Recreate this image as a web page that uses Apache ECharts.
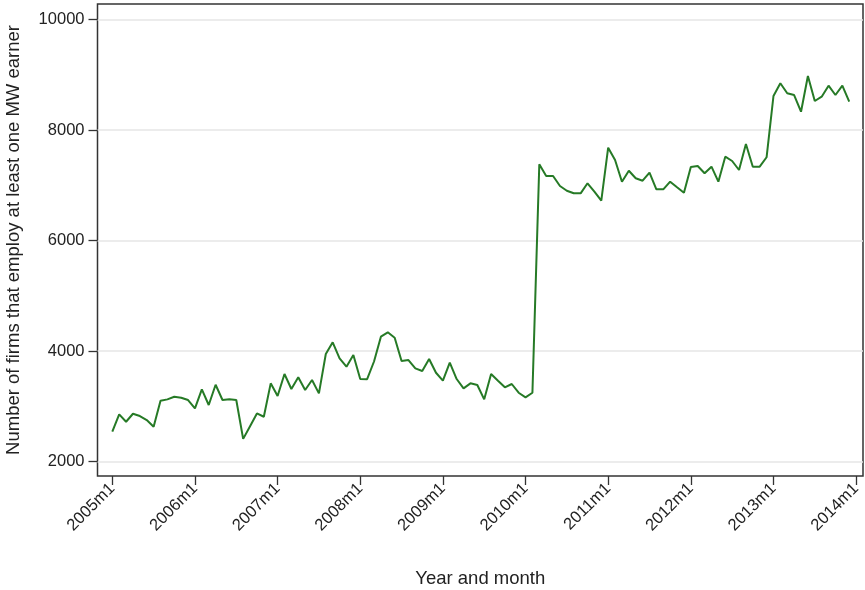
<!DOCTYPE html>
<html>
<head>
<meta charset="utf-8">
<script src="https://cdn.jsdelivr.net/npm/echarts@6/dist/echarts.min.js"></script>
<style>
  html, body { margin: 0; padding: 0; background: #fff; }
  #main { width: 865px; height: 590px; }
</style>
</head>
<body>
<div id="main"></div>
<script>
// monthly counts, 2005m1 .. 2013m12 (index 0 = 2005m1)
var firmCounts = [
  2540, 2854, 2720, 2865, 2823, 2751, 2630, 3100, 3125, 3173, 3155, 3113,
  2962, 3307, 3023, 3390, 3113, 3125, 3113, 2410, 2640, 2870, 2810, 3415,
  3185, 3584, 3312, 3524, 3294, 3475, 3234, 3946, 4157, 3868, 3716, 3928,
  3493, 3490, 3810, 4259, 4338, 4241, 3819, 3837, 3686, 3638, 3855, 3607,
  3463, 3789, 3493, 3324, 3415, 3385, 3125, 3584, 3463, 3343, 3403, 3245,
  3162, 3245, 7379, 7167, 7167, 6986, 6901, 6854, 6854, 7035, 6883, 6720,
  7680, 7457, 7064, 7263, 7126, 7082, 7227, 6926, 6926, 7064, 6963, 6865,
  7330, 7348, 7216, 7336, 7064, 7517, 7439, 7276, 7747, 7336, 7336, 7506,
  8615, 8845, 8664, 8633, 8331, 8977, 8525, 8603, 8802, 8633, 8802, 8512
];
var xTickPos = [0, 12, 24, 36, 48, 60, 72, 84, 96, 108];
var xTickLabels = ['2005m1', '2006m1', '2007m1', '2008m1', '2009m1',
                   '2010m1', '2011m1', '2012m1', '2013m1', '2014m1'];
var yTicks = [2000, 4000, 6000, 8000, 10000];

var seriesData = firmCounts.map(function (v, i) { return [i, v]; });
var labelFor = {};
xTickPos.forEach(function (p, i) { labelFor[p] = xTickLabels[i]; });

var txt = '#222';
var font = 'Liberation Sans, Arial, Helvetica, sans-serif';

var chart = echarts.init(document.getElementById('main'));
chart.setOption({
  animation: false,
  grid: {
    left: 97.5, right: 2, top: 4, bottom: 114,
    outerBoundsMode: 'none',
    containLabel: false,
    show: true, borderColor: '#333', borderWidth: 1.5, backgroundColor: '#fff'
  },
  xAxis: {
    type: 'value',
    min: -2.15, max: 109,
    name: 'Year and month',
    nameLocation: 'middle',
    nameGap: 93,
    nameTextStyle: { color: txt, fontSize: 18.5, fontFamily: font },
    axisLine: { show: false, onZero: false },
    axisTick: { show: true, inside: false, length: 9, customValues: xTickPos, lineStyle: { color: '#333', width: 1.3 } },
    axisLabel: {
      customValues: xTickPos,
      rotate: 45, margin: 10,
      color: txt, fontSize: 16.5, fontFamily: font,
      formatter: function (v) { return labelFor[v] || ''; }
    },
    splitLine: { show: false }
  },
  yAxis: {
    type: 'value',
    min: 1738, max: 10280,
    name: 'Number of firms that employ at least one MW earner',
    nameLocation: 'middle',
    nameGap: 74,
    nameTextStyle: { color: txt, fontSize: 18.5, fontFamily: font },
    axisLine: { show: false, onZero: false },
    axisTick: { show: true, inside: false, length: 9, customValues: yTicks, lineStyle: { color: '#333', width: 1.3 } },
    axisLabel: {
      customValues: yTicks,
      margin: 13,
      color: txt, fontSize: 16.5, fontFamily: font,
      formatter: function (v) { return String(v); }
    },
    splitLine: { show: true, lineStyle: { color: '#e6e6e6', width: 1.5 } }
  },
  series: [{
    type: 'line',
    data: seriesData,
    showSymbol: false,
    lineStyle: { color: '#267a26', width: 2 },
    itemStyle: { color: '#267a26' }
  }]
});
</script>
</body>
</html>
